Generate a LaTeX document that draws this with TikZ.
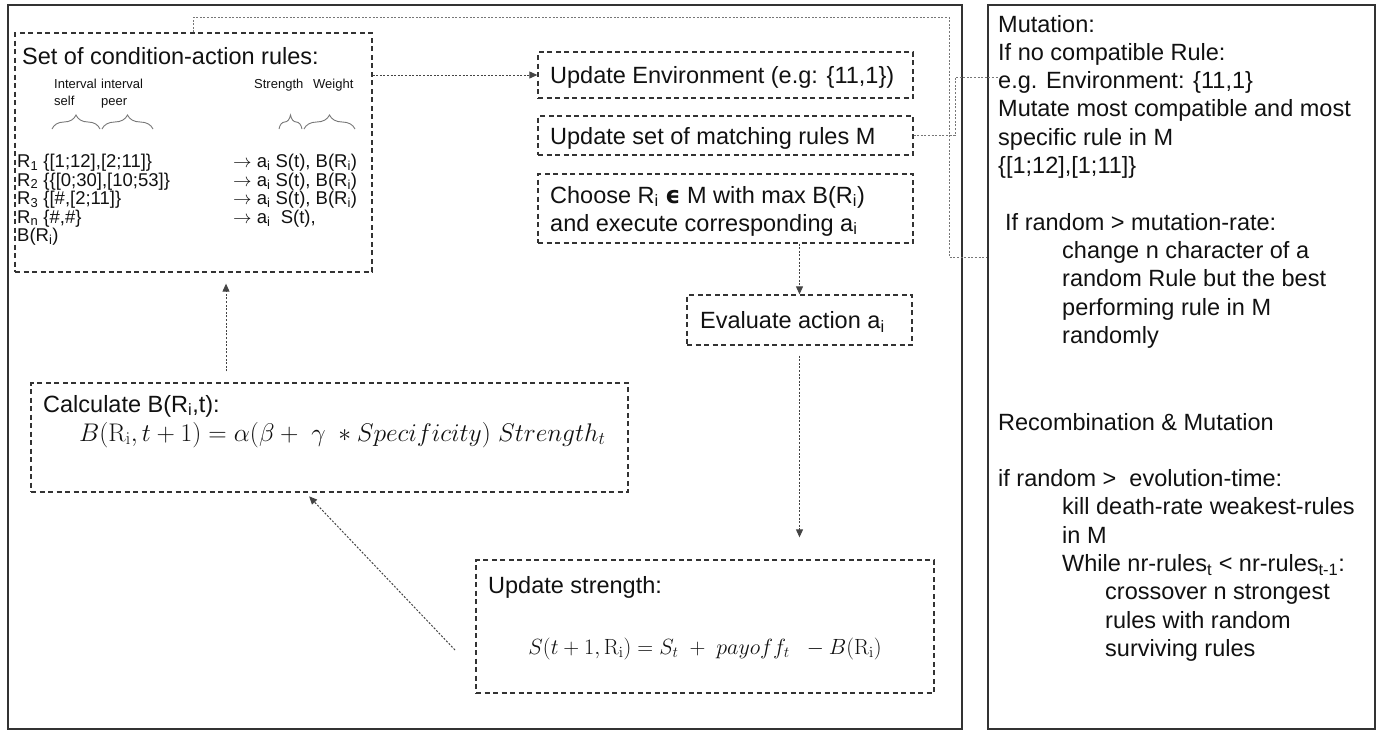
\documentclass[tikz,border=0pt]{standalone}
\usepackage{fix-cm}
\usepackage{amsmath}
\usepackage[no-math]{fontspec}
\setmainfont{Liberation Sans}
\newfontfamily\dejavu{DejaVu Sans}
\usetikzlibrary{arrows.meta,decorations.pathreplacing}
\definecolor{linec}{HTML}{333333}
\definecolor{connc}{HTML}{777777}
\definecolor{arrc}{HTML}{444444}
\definecolor{txtc}{HTML}{111111}
\tikzset{
  frame/.style={draw=linec, line width=1.3pt, inner sep=0pt},
  dbox/.style={draw=linec, line width=1.3pt, dash pattern=on 5pt off 3.5pt, inner sep=0pt},
  txt/.style={anchor=base west, inner sep=0pt, text=txtc, font=\fontsize{23.5}{28}\selectfont},
  rulet/.style={anchor=base west, inner sep=0pt, text=txtc, font=\fontsize{18.5}{20}\selectfont},
  lbl/.style={anchor=base west, inner sep=0pt, text=txtc, font=\fontsize{13}{15}\selectfont},
  mth/.style={inner sep=0pt, text=txtc, font=\fontsize{22}{26}\selectfont},
  conn/.style={draw=connc, line width=1pt, dash pattern=on 2pt off 1.6pt},
  arr/.style={draw=arrc, line width=1pt, dash pattern=on 2pt off 1.6pt, -{Triangle[length=8pt,width=7pt]}},
  brc/.style={draw=connc, line width=0.9pt, decorate, decoration={brace, amplitude=14pt}},
}
\begin{document}
\begin{tikzpicture}[x=1pt,y=-1pt]
\useasboundingbox (0,0) rectangle (1383,734);
% outer frames
\node[frame, minimum width=954pt, minimum height=724pt] (lbox) at (485,367) {};
\node[frame, minimum width=387pt, minimum height=724pt] (rbox) at (1181.5,367) {};
% dashed boxes
\node[dbox, minimum width=357pt, minimum height=239pt] (set) at (193.5,152.5) {};
\node[dbox, minimum width=375pt, minimum height=46pt] (updenv) at (725.5,75) {};
\node[dbox, minimum width=375pt, minimum height=39pt] (updm) at (725.5,135.5) {};
\node[dbox, minimum width=375pt, minimum height=69pt] (choose) at (725.5,208.5) {};
\node[dbox, minimum width=225pt, minimum height=50pt] (evaluate) at (799.5,320) {};
\node[dbox, minimum width=597pt, minimum height=109pt] (calc) at (329.5,437.5) {};
\node[dbox, minimum width=458pt, minimum height=133pt] (ustr) at (705,626.5) {};

% set box contents
\node[txt] (settitle) at (22,64) {Set of condition-action rules:};
\node[lbl] (l1) at (54,88) {Interval};
\node[lbl] (l2) at (54,105) {self};
\node[lbl] (l3) at (101,88) {interval};
\node[lbl] (l4) at (101,105) {peer};
\node[lbl] (l5) at (254,88) {Strength};
\node[lbl] (l6) at (313,88) {Weight};
\draw[brc] (52,129) -- (100,129);
\draw[brc] (102,129) -- (153,129);
\draw[brc] (279,129) -- (302,129);
\draw[brc] (304,129) -- (355,129);
\node[rulet] (r1) at (17,167.5) {R\textsubscript{1} \{[1;12],[2;11]\}};
\node[rulet] (r2) at (17,186) {R\textsubscript{2} \{\{[0;30],[10;53]\}};
\node[rulet] (r3) at (17,204.5) {R\textsubscript{3} \{[\#,[2;11]\}};
\node[rulet] (r4) at (17,223) {R\textsubscript{n} \{\#,\#\}};
\node[rulet] (r5) at (17,241.5) {B(R\textsubscript{i})};
\node[rulet] (a1) at (233,167.5) {$\rightarrow$ a\textsubscript{i} S(t), B(R\textsubscript{i})};
\node[rulet] (a2) at (233,186) {$\rightarrow$ a\textsubscript{i} S(t), B(R\textsubscript{i})};
\node[rulet] (a3) at (233,204.5) {$\rightarrow$ a\textsubscript{i} S(t), B(R\textsubscript{i})};
\node[rulet] (a4) at (233,223) {$\rightarrow$ a\textsubscript{i}\ \ S(t),};

% process boxes text
\node[txt] (t1) at (550,83.4) {Update Environment (e.g: \{11,1\})};
\node[txt] (t2) at (550,144) {Update set of matching rules M};
\node[txt] (t3) at (550,203) {Choose R\textsubscript{i} {\dejavu\bfseries ϵ} M with max B(R\textsubscript{i})};
\node[txt] (t4) at (550,231) {and execute corresponding a\textsubscript{i}};
\node[txt] (t5) at (700,328.4) {Evaluate action a\textsubscript{i}};
\node[txt] (t6) at (43,412) {Calculate B(R\textsubscript{i},t):};
\node[mth, anchor=base west, font=\fontsize{25.5}{30}\selectfont] (f1) at (79,441) {$B(\mathrm{R}_{\mathrm{i}}, t+1) = \alpha(\beta +\ \gamma\ * Specificity)\ Strength_t$};
\node[txt] (t7) at (488,593.5) {Update strength:};
\node[mth, anchor=base] (f2) at (705,654) {$S(t+1,\mathrm{R}_{\mathrm{i}}) = S_t\ +\ payoff_t\ \ - B(\mathrm{R}_{\mathrm{i}})$};

% right box text
\node[txt] (m1) at (998,32) {Mutation:};
\node[txt] (m2) at (998,60.3) {If no compatible Rule:};
\node[txt] (m3) at (998,88.6) {e.g. Environment: \{11,1\}};
\node[txt] (m4) at (998,116.9) {Mutate most compatible and most};
\node[txt] (m5) at (998,145.2) {specific rule in M};
\node[txt] (m6) at (998,173.5) {\{[1;12],[1;11]\}};
\node[txt] (m7) at (1005,230.1) {If random > mutation-rate:};
\node[txt] (m8) at (1062,258.4) {change n character of a};
\node[txt] (m9) at (1062,286.7) {random Rule but the best};
\node[txt] (m10) at (1062,315) {performing rule in M};
\node[txt] (m11) at (1062,343.3) {randomly};
\node[txt] (n1) at (998,430) {Recombination \& Mutation};
\node[txt] (n2) at (998,486.6) {if random >\ \ evolution-time:};
\node[txt] (n3) at (1062,514.9) {kill death-rate weakest-rules};
\node[txt] (n4) at (1062,543.2) {in M};
\node[txt] (n5) at (1062,571.5) {While nr-rules\textsubscript{t} < nr-rules\textsubscript{t-1}:};
\node[txt] (n6) at (1105,599.8) {crossover n strongest};
\node[txt] (n7) at (1105,628.1) {rules with random};
\node[txt] (n8) at (1105,656.4) {surviving rules};

% connectors
\coordinate (c2) at (949,17);
\coordinate (c3) at (949,257);
\draw[conn] (set.north) -- (set.north |- c2) -- (c2) -- (c3) -- (c3 -| rbox.west);
\coordinate (d1) at (955,77);
\coordinate (d2) at (999,77);
\draw[conn] (updm.east) -- (updm.east -| d1) -- (d1) -- (d2);
\draw[arr] (updenv.west -| set.east) -- (updenv.west);
\draw[arr] (evaluate.north |- choose.south) -- (evaluate.north);
\draw[arr, shorten <=10pt, shorten >=22pt] (evaluate.south) -- (evaluate.south |- ustr.north);
\coordinate (u6) at (455,650);
\coordinate (cb) at (305,492);
\draw[arr, shorten >=6pt] (u6) -- (cb);
\coordinate (k) at (226,0);
\draw[arr, shorten <=11pt, shorten >=11pt] (k |- calc.north) -- (k |- set.south);
\end{tikzpicture}
\end{document}
